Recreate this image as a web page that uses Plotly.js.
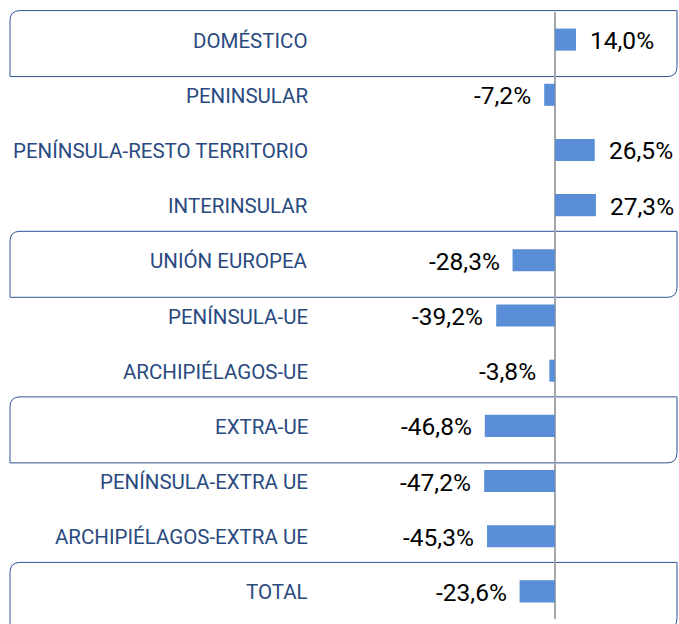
<!DOCTYPE html>
<html>
<head>
<meta charset="utf-8">
<script src="https://cdn.plot.ly/plotly-3.0.1.min.js"></script>
<style>html,body{margin:0;padding:0;background:#fff;}</style>
</head>
<body>
<div id="chart" style="width:679px;height:624px;"></div>
<script>
const categories = ['DOMÉSTICO','PENINSULAR','PENÍNSULA-RESTO TERRITORIO','INTERINSULAR','UNIÓN EUROPEA','PENÍNSULA-UE','ARCHIPIÉLAGOS-UE','EXTRA-UE','PENÍNSULA-EXTRA UE','ARCHIPIÉLAGOS-EXTRA UE','TOTAL'];
const values = [14.0, -7.2, 26.5, 27.3, -28.3, -39.2, -3.8, -46.8, -47.2, -45.3, -23.6];
const boxed = ['DOMÉSTICO','UNIÓN EUROPEA','EXTRA-UE','TOTAL'];

const W = 679, H = 624, T = 12, B = 5;
const plotH = H - T - B;
const zeroPx = 555, pxPerUnit = 1.5;
const xRange = [-zeroPx / pxPerUnit, (W - zeroPx) / pxPerUnit];
const n = categories.length;
const fmt = v => v.toFixed(1).replace('.', ',') + '%';
const px2x = p => p / W;
const py2y = p => (H - B - p) / plotH;
const rowPx = i => T + (i + 0.5) * plotH / n;

const trace = {
  type: 'bar', orientation: 'h',
  x: values, y: categories,
  marker: {color: '#5A8ED6'},
  width: 0.4,
  hoverinfo: 'none'
};

const annotations = [];
categories.forEach((c, i) => {
  annotations.push({
    x: px2x(310), xref: 'paper', y: c, yref: 'y', text: c, showarrow: false,
    xanchor: 'right', yanchor: 'middle', yshift: -1,
    font: {family: 'Roboto, sans-serif', size: 20.5, color: '#2A4A7F'}
  });
  const v = values[i];
  annotations.push({
    x: v, xref: 'x', y: c, yref: 'y', text: fmt(v), showarrow: false,
    xanchor: v >= 0 ? 'left' : 'right', yanchor: 'middle', yshift: -1,
    xshift: v >= 0 ? 12 : -11,
    font: {family: 'Roboto, sans-serif', size: 24.5, color: '#000'}
  });
});

const shapes = [];
boxed.forEach(c => {
  const i = categories.indexOf(c);
  const cy = rowPx(i);
  const x0 = px2x(10), x1 = px2x(677);
  const y0 = py2y(cy - 29), y1 = py2y(cy + 37);
  const rx = 10 / W, ry = 10 / plotH;
  const path = `M ${x0},${y1} L ${x0},${y0 - ry} Q ${x0},${y0} ${x0 + rx},${y0} L ${x1},${y0} L ${x1},${y1 + ry} Q ${x1},${y1} ${x1 - rx},${y1} Z`;
  shapes.push({type: 'path', xref: 'paper', yref: 'paper', path: path,
    line: {color: '#2F5597', width: 1}, fillcolor: 'rgba(0,0,0,0)', layer: 'below'});
});

const layout = {
  width: W, height: H,
  margin: {l: 0, r: 0, t: T, b: B, pad: 0},
  paper_bgcolor: '#fff', plot_bgcolor: 'rgba(0,0,0,0)',
  showlegend: false,
  xaxis: {range: xRange, showgrid: false, showticklabels: false, ticks: '',
    zeroline: true, zerolinecolor: '#A6A6A6', zerolinewidth: 2, fixedrange: true},
  yaxis: {type: 'category', range: [n - 0.5, -0.5], showgrid: false, showticklabels: false,
    ticks: '', zeroline: false, fixedrange: true},
  annotations: annotations,
  shapes: shapes,
  bargap: 0.6
};

Plotly.newPlot('chart', [trace], layout, {displayModeBar: false, staticPlot: true});
</script>
</body>
</html>
